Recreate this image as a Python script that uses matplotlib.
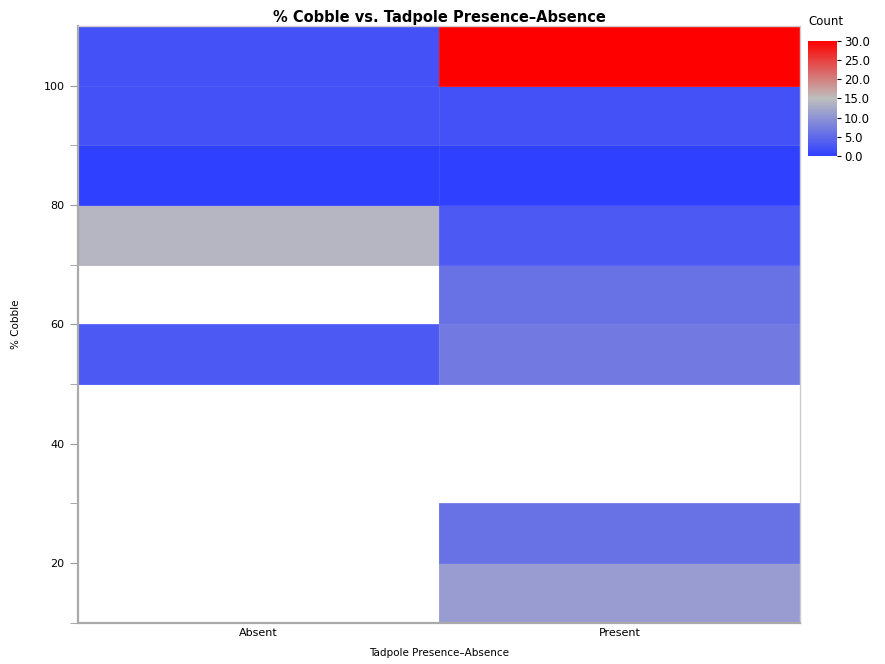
import numpy as np
import matplotlib
matplotlib.use('Agg')
import matplotlib.pyplot as plt
from matplotlib.colors import LinearSegmentedColormap

# % Cobble bins (lower edge) y conteos por grupo
bins_cobble = [10, 20, 30, 40, 50, 60, 70, 80, 90, 100]
ancho_bin = 10
grupos = ['Absent', 'Present']
cuenta_absent = [np.nan, np.nan, np.nan, np.nan, 3, np.nan, 14, 0, 2, 2]
cuenta_present = [11, 6, np.nan, np.nan, 7, 6, 3, 0, 2, 30]

cmap = LinearSegmentedColormap.from_list('azul_rojo', ['#3040ff', '#bebebe', '#ff0000'])

fig = plt.figure(figsize=(8.85, 6.64), dpi=100)
ax = fig.add_axes([0.088, 0.062, 0.816, 0.899])

y_bordes = bins_cobble + [bins_cobble[-1] + ancho_bin]
x_bordes = np.arange(len(grupos) + 1)
matriz = np.ma.masked_invalid(np.array([cuenta_absent, cuenta_present]).T)
malla = ax.pcolormesh(x_bordes, y_bordes, matriz, cmap=cmap, vmin=0, vmax=30,
                      edgecolor=(1, 1, 1, 0.08), linewidth=0.6)

ax.set_xlim(0, len(grupos))
ax.set_ylim(y_bordes[0], y_bordes[-1])
ax.set_xticks(np.arange(len(grupos)) + 0.5)
ax.set_xticklabels(grupos)
ax.set_yticks([20, 40, 60, 80, 100])
ax.set_yticks([10, 30, 50, 70, 90], minor=True)
ax.tick_params(axis='x', length=0, labelsize=8, pad=4)
ax.tick_params(axis='y', which='both', length=6, color='#999999', labelsize=8, direction='out')

for lado in ['left', 'bottom']:
    ax.spines[lado].set_color('#aaaaaa')
    ax.spines[lado].set_linewidth(1.6)
for lado in ['top', 'right']:
    ax.spines[lado].set_color('#cccccc')
    ax.spines[lado].set_linewidth(1.0)

ax.set_xlabel('Tadpole Presence\u2013Absence', fontsize=7.5, labelpad=7)
ax.set_ylabel('% Cobble', fontsize=7.5, labelpad=16)
ax.set_title('% Cobble vs. Tadpole Presence\u2013Absence', fontsize=10.5, fontweight='bold', pad=3)

# barra de color
cax = fig.add_axes([0.913, 0.765, 0.033, 0.174])
cb = fig.colorbar(malla, cax=cax, ticks=[0, 5, 10, 15, 20, 25, 30], format='%.1f')
cb.outline.set_visible(False)
cax.tick_params(length=3, labelsize=8.5, pad=2)
fig.text(0.913, 0.958, 'Count', fontsize=8.5, va='bottom')

plt.savefig('out.png', dpi=100)
